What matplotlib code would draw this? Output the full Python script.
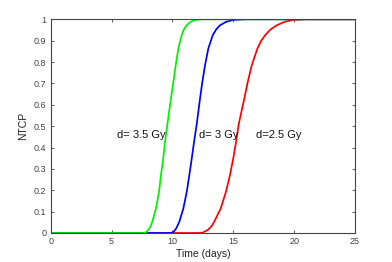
import matplotlib
matplotlib.use("Agg")
import matplotlib.pyplot as plt

plt.rcParams['font.family'] = ['Liberation Sans', 'DejaVu Sans']

# values (time in days, NTCP)
t_25 = [0, 12.2, 12.5, 12.9, 13.2, 13.44, 13.97, 14.4, 14.73, 15.0, 15.23, 15.45,
        15.91, 16.19, 16.52, 16.98, 17.3, 17.61, 18.05, 18.57, 19.2, 19.9, 21, 25]
ntcp_25 = [0, 0, 0.002, 0.014, 0.03, 0.053, 0.115, 0.193, 0.271, 0.349, 0.427, 0.51,
           0.63, 0.707, 0.785, 0.863, 0.9, 0.925, 0.952, 0.972, 0.988, 0.997, 1, 1]

t_30 = [0, 9.8, 10.05, 10.3, 10.57, 10.9, 11.18, 11.39, 11.59, 11.78, 12.0,
        12.27, 12.46, 12.68, 12.95, 13.31, 13.6, 13.91, 14.4, 15.0, 16, 25]
ntcp_30 = [0, 0, 0.003, 0.02, 0.053, 0.115, 0.193, 0.271, 0.349, 0.427, 0.51,
           0.63, 0.707, 0.785, 0.863, 0.925, 0.953, 0.972, 0.988, 0.997, 1, 1]

t_35 = [0, 7.5, 7.8, 8.02, 8.2, 8.35, 8.65, 8.9, 9.06, 9.25, 9.39, 9.58,
        9.88, 10.08, 10.27, 10.49, 10.76, 10.95, 11.17, 11.5, 11.85, 12.5, 25]
ntcp_35 = [0, 0, 0.002, 0.014, 0.03, 0.053, 0.115, 0.193, 0.271, 0.349, 0.427,
           0.505, 0.63, 0.707, 0.785, 0.863, 0.925, 0.953, 0.972, 0.988, 0.997, 1, 1]

labels = ['d=2.5 Gy', 'd= 3 Gy', 'd= 3.5 Gy']
label_x = [16.87, 12.19, 5.42]
label_y = 0.458

fig = plt.figure(figsize=(3.92, 2.62), dpi=100)
ax = fig.add_axes([0.1293, 0.1107, 0.7763, 0.8156])

ax.plot(t_25, ntcp_25, color='#ff0000', lw=1.25)
ax.plot(t_30, ntcp_30, color='#0000ff', lw=1.25)
ax.plot(t_35, ntcp_35, color='#00f000', lw=1.25)

for lab, x in zip(labels, label_x):
    ax.text(x, label_y, lab, fontsize=8, ha='left', va='center', color='#111111')

ax.set_xlim(0, 25)
ax.set_ylim(0, 1)
ax.set_xticks([0, 5, 10, 15, 20, 25])
ax.set_yticks([i / 10 for i in range(11)])
ax.set_yticklabels(['0'] + ['0.%d' % i for i in range(1, 10)] + ['1'])
ax.tick_params(direction='in', length=2.5, width=0.6, labelsize=6.5,
               colors='#444444', top=True, right=True, pad=3)
for s in ax.spines.values():
    s.set_color('#444444')
    s.set_linewidth(0.8)

ax.set_xlabel('Time (days)', fontsize=7.5, color='#222222', labelpad=2)
ax.set_ylabel('NTCP', fontsize=7.5, color='#222222', labelpad=4)

fig.savefig('out.png', dpi=100)
